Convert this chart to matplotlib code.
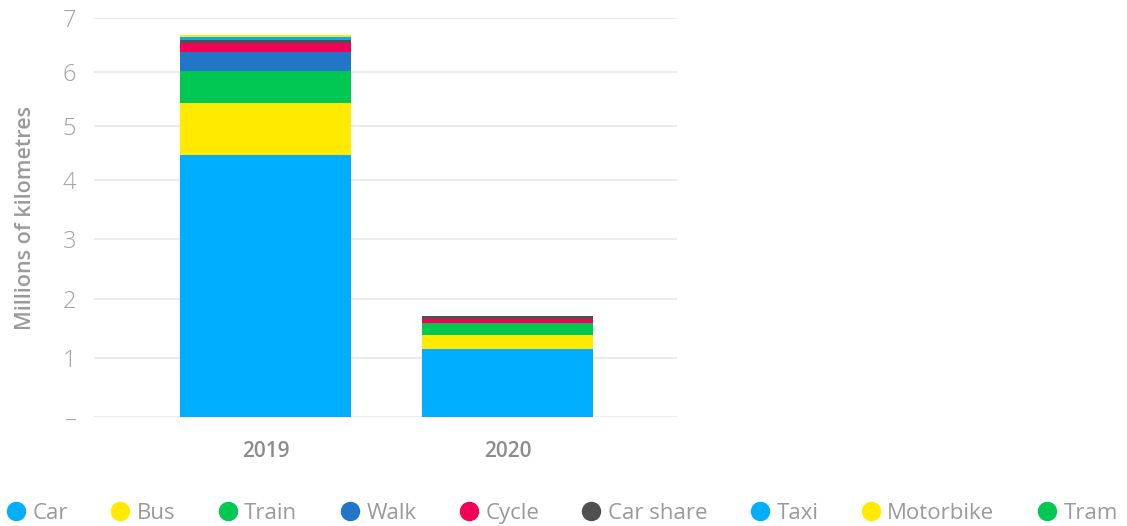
import numpy as np
import matplotlib
matplotlib.use("Agg")
import matplotlib.pyplot as plt
from matplotlib.lines import Line2D

plt.rcParams["font.family"] = ["Open Sans", "DejaVu Sans"]

years = ["2019", "2020"]
modes = ["Car", "Bus", "Train", "Walk", "Cycle", "Car share", "Taxi", "Motorbike", "Tram"]

# millions of km per mode, bottom to top of each stack
car = [4.46, 1.15]
bus = [0.96, 0.24]
train = [0.59, 0.20]
walk = [0.36, 0.0]
cycle = [0.155, 0.07]
car_share = [0.055, 0.05]
taxi = [0.055, 0.0]
motorbike = [0.05, 0.0]
tram = [0.0, 0.0]

colors = ["#00AEFF", "#FFEA00", "#00C853", "#2176C7", "#F50057",
          "#505050", "#00AEFF", "#FFEA00", "#00C853"]

y_ticks = [0, 1, 2, 3, 4, 5, 6, 7]
y_tick_labels = ["\u2013", "1", "2", "3", "4", "5", "6", "7"]

# axis is compressed a little above 4
squeeze = 0.911


def fwd(v):
    v = np.asarray(v, dtype=float)
    return np.where(v <= 4, v, 4 + (v - 4) * squeeze)


def inv(u):
    u = np.asarray(u, dtype=float)
    return np.where(u <= 4, u, 4 + (u - 4) / squeeze)


fig = plt.figure(figsize=(11.27, 5.26), dpi=100)
ax = fig.add_axes([0.0834, 0.2063, 0.5173, 0.760])
ax.set_yscale("function", functions=(fwd, inv))

series = [car, bus, train, walk, cycle, car_share, taxi, motorbike, tram]
x = np.arange(len(years))
bottom = np.zeros(len(years))
for vals, col in zip(series, colors):
    vals = np.array(vals)
    ax.bar(x, vals, width=0.707, bottom=bottom, color=col, zorder=3, linewidth=0)
    bottom += vals

ax.set_xlim(-0.709, 1.70)
ax.set_ylim(0, 7)
ax.set_yticks(y_ticks)
ax.set_yticklabels(y_tick_labels)
ax.set_xticks(x)
ax.set_xticklabels(years)

ax.grid(axis="y", color="#ececec", linewidth=1.5, zorder=0)
for s in ax.spines.values():
    s.set_visible(False)
ax.tick_params(axis="y", length=0, pad=13, labelsize=17, labelcolor="#a3a3a3")
ax.tick_params(axis="x", length=0, pad=17, labelsize=15, labelcolor="#8c8c8c")
for lbl in ax.get_yticklabels():
    lbl.set_fontweight("light")
for lbl in ax.get_xticklabels():
    lbl.set_fontweight("semibold")

ax.set_ylabel("Millions of kilometres", fontsize=15.5, color="#9a9a9a",
              fontweight="semibold", labelpad=19)

handles = [Line2D([], [], marker="o", linestyle="none", markersize=13,
                  markerfacecolor=c, markeredgecolor=c) for c in colors]
fig.legend(handles, modes, loc="lower left", bbox_to_anchor=(0.004, 0.0),
           ncol=len(modes), frameon=False, fontsize=16, labelcolor="#9a9a9a",
           handlelength=0.8, handletextpad=0.35, columnspacing=1.95,
           borderaxespad=0.0, borderpad=0.1)

fig.savefig("out.png", dpi=100)
